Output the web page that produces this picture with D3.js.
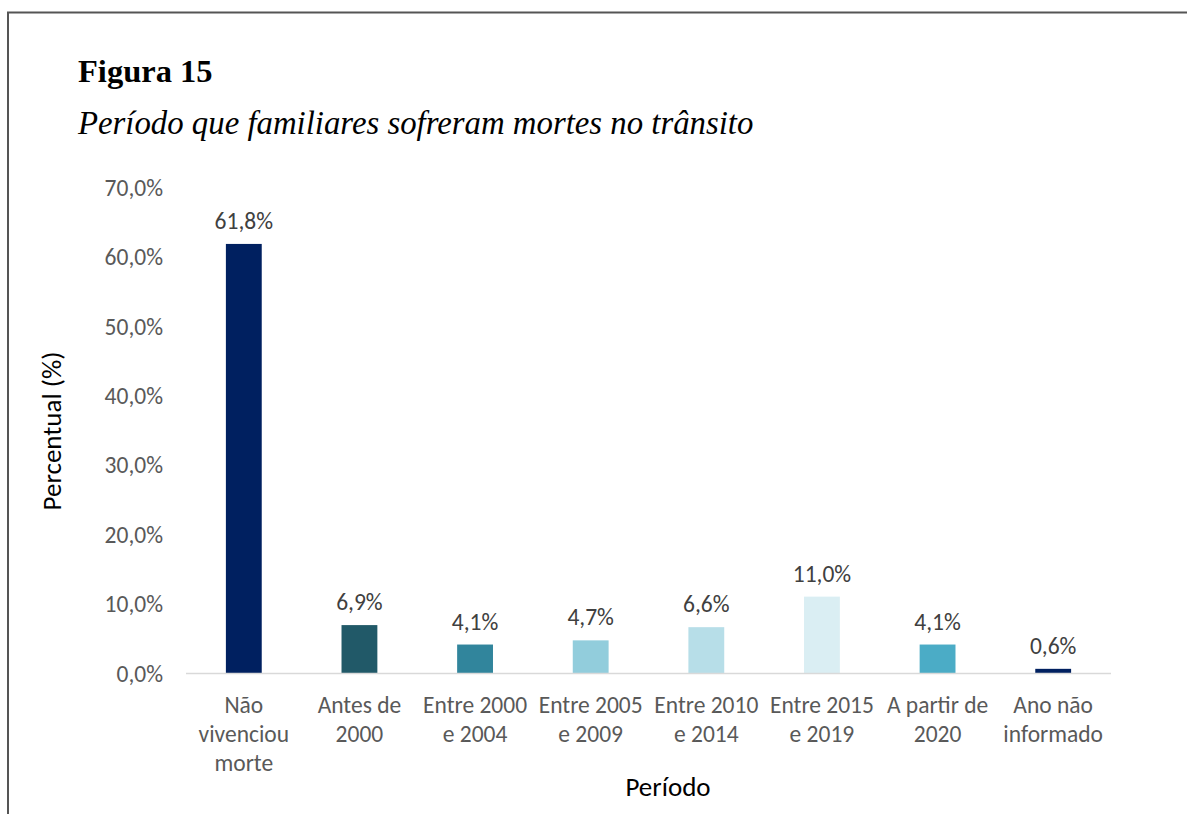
<!DOCTYPE html>
<html>
<head>
<meta charset="utf-8">
<script src="https://cdn.jsdelivr.net/npm/d3@7/dist/d3.min.js"></script>
<style>
  html, body { margin: 0; padding: 0; background: #fff; }
  svg { display: block; }
</style>
</head>
<body>
<svg id="chart" width="1187" height="814"></svg>
<script>
const categories = [
  ["Não", "vivenciou", "morte"],
  ["Antes de", "2000"],
  ["Entre 2000", "e 2004"],
  ["Entre 2005", "e 2009"],
  ["Entre 2010", "e 2014"],
  ["Entre 2015", "e 2019"],
  ["A partir de", "2020"],
  ["Ano não", "informado"]
];
const values = [61.8, 6.9, 4.1, 4.7, 6.6, 11.0, 4.1, 0.6];
const barColors = ["#002060", "#215968", "#31859C", "#92CDDC", "#B7DEE8", "#DAEEF3", "#4BACC6", "#002060"];
const yTicks = [0, 10, 20, 30, 40, 50, 60, 70];
const titleText = "Figura 15";
const subtitleText = "Período que familiares sofreram mortes no trânsito";
const yTitle = "Percentual (%)";
const xTitle = "Período";

const sans = "Carlito, Lato, 'Open Sans', sans-serif";
const serif = "'Liberation Serif', 'Times New Roman', serif";

const svg = d3.select("#chart");

// frame
svg.append("path")
  .attr("d", "M8,814 L8,12.5 L1187,12.5")
  .attr("fill", "none").attr("stroke", "#555").attr("stroke-width", 2);

// titles
svg.append("text").attr("x", 78).attr("y", 82)
  .attr("font-family", serif).attr("font-weight", "bold").attr("font-size", 32.5)
  .attr("fill", "#000").text(titleText);
svg.append("text").attr("x", 78).attr("y", 134)
  .attr("font-family", serif).attr("font-style", "italic").attr("font-size", 32.8)
  .attr("fill", "#000").text(subtitleText);

const x0 = 186, x1 = 1111, yBase = 673, yTop = 187;
const x = d3.scaleBand().domain(d3.range(categories.length)).range([x0, x1])
  .paddingInner(0.69).paddingOuter(0.345);
const y = d3.scaleLinear().domain([0, 70]).range([yBase, yTop]);

const fmt = v => d3.format(".1f")(v).replace(".", ",") + "%";

// y axis labels
const yAxis = d3.axisLeft(y).tickValues(yTicks).tickFormat(fmt).tickSize(0).tickPadding(0);
const gy = svg.append("g").attr("transform", `translate(163,0)`).call(yAxis);
gy.select(".domain").remove();
gy.selectAll("text").attr("font-family", sans).attr("font-size", 23.5).attr("fill", "#595959")
  .attr("dy", "0.35em");

// bars
svg.append("g").selectAll("rect").data(values).join("rect")
  .attr("x", (d, i) => x(i))
  .attr("width", x.bandwidth())
  .attr("y", d => y(d))
  .attr("height", d => yBase - y(d))
  .attr("fill", (d, i) => barColors[i]);

// x axis line
const xAxis = d3.axisBottom(x).tickSize(0).tickFormat("");
const gx = svg.append("g").attr("transform", `translate(0,${yBase})`).call(xAxis);
gx.select(".domain").attr("stroke", "#D9D9D9").attr("stroke-width", 1.5)
  .attr("d", `M${x0},0.5H${x1}`);

// category labels
const cat = svg.append("g").selectAll("text").data(categories).join("text")
  .attr("font-family", sans).attr("font-size", 23.5).attr("fill", "#595959")
  .attr("text-anchor", "middle");
cat.each(function(lines, i) {
  const cx = x(i) + x.bandwidth() / 2;
  d3.select(this).selectAll("tspan").data(lines).join("tspan")
    .attr("x", cx).attr("y", (d, j) => 713 + j * 29).text(d => d);
});

// data labels
svg.append("g").selectAll("text").data(values).join("text")
  .attr("x", (d, i) => x(i) + x.bandwidth() / 2)
  .attr("y", d => y(d) - 15)
  .attr("text-anchor", "middle")
  .attr("font-family", sans).attr("font-size", 23.5).attr("fill", "#404040")
  .text(d => fmt(d));

// axis titles
svg.append("text")
  .attr("transform", "translate(61,431) rotate(-90)")
  .attr("text-anchor", "middle")
  .attr("font-family", sans).attr("font-size", 27).attr("fill", "#000")
  .text(yTitle);
svg.append("text")
  .attr("x", 668).attr("y", 796)
  .attr("text-anchor", "middle")
  .attr("font-family", sans).attr("font-size", 27).attr("fill", "#000")
  .text(xTitle);
</script>
</body>
</html>
